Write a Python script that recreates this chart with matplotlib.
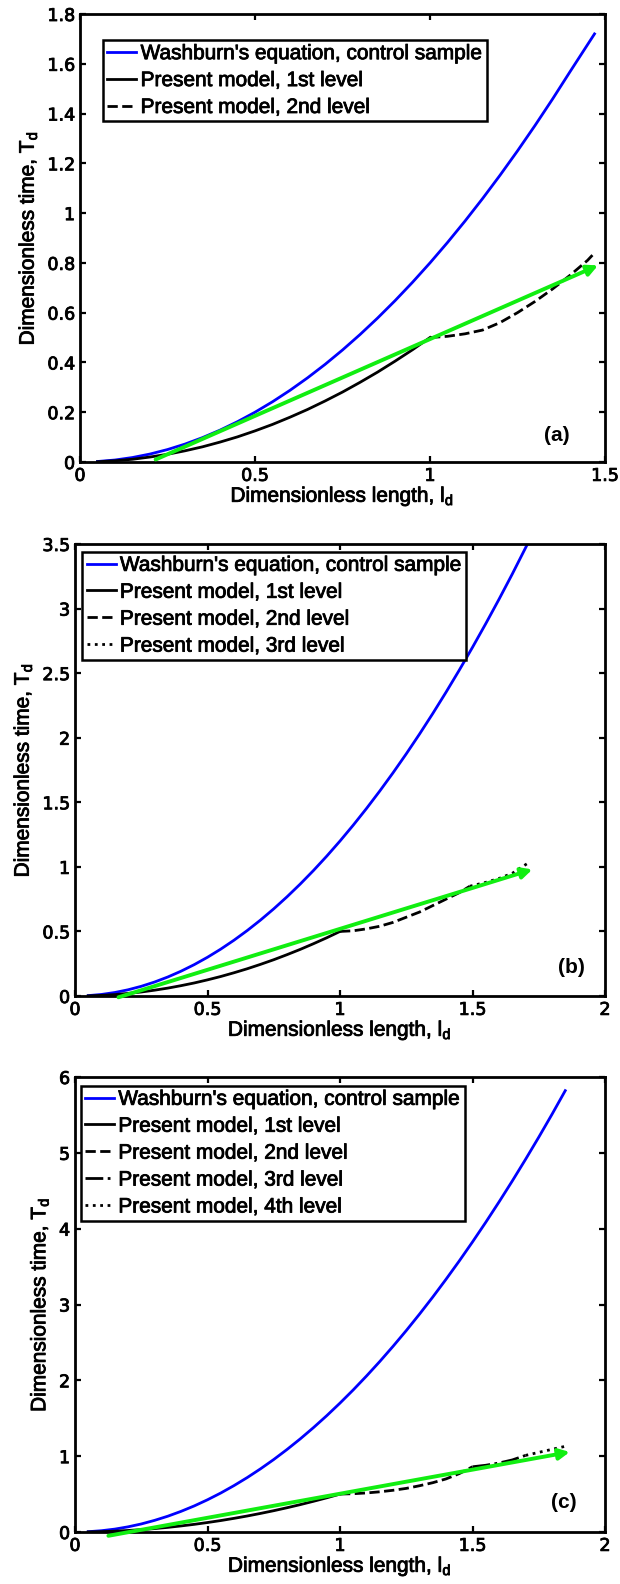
import matplotlib
matplotlib.use('Agg')
from matplotlib import pyplot as plt
import matplotlib.patheffects as pe

plt.rcParams['font.family'] = ['Liberation Sans', 'DejaVu Sans']
plt.rcParams['mathtext.default'] = 'regular'

############ DATA

# panel (a)
a_wash_x = [0.05, 0.1, 0.15, 0.2, 0.25, 0.3, 0.35, 0.4, 0.45, 0.5, 0.55, 0.6, 0.65, 0.7, 0.75, 0.8, 0.85, 0.9, 0.95,
            1.0, 1.05, 1.1, 1.15, 1.2, 1.25, 1.3, 1.35, 1.4, 1.47]
a_wash_y = [0.002, 0.008, 0.018, 0.032, 0.05, 0.072, 0.098, 0.128, 0.162, 0.2, 0.242, 0.288, 0.338, 0.392, 0.45,
            0.512, 0.578, 0.648, 0.722, 0.8, 0.882, 0.968, 1.058, 1.152, 1.25, 1.352, 1.458, 1.568, 1.72]
a_lvl1_x = [0.05, 0.1, 0.15, 0.2, 0.25, 0.3, 0.35, 0.4, 0.45, 0.5, 0.55, 0.6, 0.65, 0.7, 0.75, 0.8, 0.85, 0.9, 0.95, 1.0]
a_lvl1_y = [0.001, 0.005, 0.011, 0.02, 0.031, 0.045, 0.061, 0.08, 0.101, 0.125, 0.151, 0.18, 0.211, 0.245, 0.281,
            0.32, 0.361, 0.405, 0.451, 0.5]
a_lvl2_x = [1.0, 1.05, 1.1, 1.15, 1.2, 1.25, 1.3, 1.35, 1.4, 1.45, 1.47]
a_lvl2_y = [0.5, 0.505, 0.515, 0.53, 0.56, 0.6, 0.645, 0.695, 0.75, 0.81, 0.84]
a_arrow = [(0.216, 0.01), (1.48, 0.79)]

# panel (b)
b_wash_x = [0.05, 0.1, 0.15, 0.2, 0.25, 0.3, 0.35, 0.4, 0.45, 0.5, 0.55, 0.6, 0.65, 0.7, 0.75, 0.8, 0.85, 0.9, 0.95,
            1.0, 1.05, 1.1, 1.15, 1.2, 1.25, 1.3, 1.35, 1.4, 1.45, 1.5, 1.55, 1.6, 1.65, 1.71]
b_wash_y = [0.003, 0.012, 0.027, 0.048, 0.075, 0.108, 0.147, 0.192, 0.243, 0.3, 0.363, 0.432, 0.507, 0.588, 0.675,
            0.768, 0.867, 0.972, 1.083, 1.2, 1.323, 1.452, 1.587, 1.728, 1.875, 2.028, 2.187, 2.352, 2.523, 2.7,
            2.883, 3.072, 3.267, 3.51]
b_lvl1_x = a_lvl1_x
b_lvl1_y = [0.001, 0.005, 0.011, 0.02, 0.031, 0.045, 0.061, 0.08, 0.101, 0.125, 0.151, 0.18, 0.211, 0.245, 0.281,
            0.32, 0.361, 0.405, 0.451, 0.5]
b_lvl2_x = [1.0, 1.05, 1.1, 1.15, 1.2, 1.25, 1.3, 1.35, 1.4, 1.45, 1.49]
b_lvl2_y = [0.5, 0.505, 0.52, 0.54, 0.57, 0.61, 0.65, 0.70, 0.75, 0.80, 0.85]
b_lvl3_x = [1.49, 1.55, 1.6, 1.65, 1.71]
b_lvl3_y = [0.85, 0.88, 0.91, 0.95, 1.03]
b_arrow = [(0.164, -0.01), (1.726, 0.98)]

# panel (c)
c_wash_x = [0.05, 0.1, 0.15, 0.2, 0.25, 0.3, 0.35, 0.4, 0.45, 0.5, 0.55, 0.6, 0.65, 0.7, 0.75, 0.8, 0.85, 0.9, 0.95,
            1.0, 1.05, 1.1, 1.15, 1.2, 1.25, 1.3, 1.35, 1.4, 1.45, 1.5, 1.55, 1.6, 1.65, 1.7, 1.75, 1.8, 1.85]
c_wash_y = [0.004, 0.017, 0.038, 0.068, 0.106, 0.153, 0.208, 0.272, 0.344, 0.425, 0.514, 0.612, 0.718, 0.833, 0.956,
            1.088, 1.228, 1.377, 1.534, 1.7, 1.874, 2.057, 2.248, 2.448, 2.656, 2.873, 3.098, 3.332, 3.574, 3.825,
            4.084, 4.352, 4.628, 4.913, 5.206, 5.508, 5.82]
c_lvl1_x = a_lvl1_x
c_lvl1_y = [0.001, 0.005, 0.011, 0.02, 0.031, 0.045, 0.061, 0.08, 0.101, 0.125, 0.151, 0.18, 0.211, 0.245, 0.281,
            0.32, 0.361, 0.405, 0.451, 0.5]
c_lvl2_x = [1.0, 1.05, 1.1, 1.15, 1.2, 1.25, 1.3, 1.35, 1.4, 1.45, 1.5]
c_lvl2_y = [0.5, 0.505, 0.515, 0.53, 0.55, 0.575, 0.61, 0.65, 0.7, 0.77, 0.86]
c_lvl3_x = [1.5, 1.55, 1.6, 1.65, 1.7]
c_lvl3_y = [0.86, 0.88, 0.91, 0.95, 1.01]
c_lvl4_x = [1.7, 1.75, 1.8, 1.85]
c_lvl4_y = [1.01, 1.05, 1.09, 1.13]
c_arrow = [(0.126, -0.05), (1.867, 1.055)]

# ticks
a_xticks = [0, 0.5, 1, 1.5]
a_xlabels = ['0', '0.5', '1', '1.5']
a_yticks = [0, 0.2, 0.4, 0.6, 0.8, 1.0, 1.2, 1.4, 1.6, 1.8]
a_ylabels = ['0', '0.2', '0.4', '0.6', '0.8', '1', '1.2', '1.4', '1.6', '1.8']
bc_xticks = [0, 0.5, 1, 1.5, 2]
bc_xlabels = ['0', '0.5', '1', '1.5', '2']
b_yticks = [0, 0.5, 1, 1.5, 2, 2.5, 3, 3.5]
b_ylabels = ['0', '0.5', '1', '1.5', '2', '2.5', '3', '3.5']
c_yticks = [0, 1, 2, 3, 4, 5, 6]
c_ylabels = ['0', '1', '2', '3', '4', '5', '6']

lbl_wash = "Washburn's equation, control sample"
lbl_levels = ['Present model, 1st level', 'Present model, 2nd level',
              'Present model, 3rd level', 'Present model, 4th level']

BLUE = '#0000ff'
GREEN = '#11ee11'
LW = 2.0
FS = 15
THICK = [pe.withStroke(linewidth=0.6, foreground='black')]


def style_axes(ax, xt, xl, yt, yl, xmax, ymax):
    ax.set_xlim(0, xmax)
    ax.set_ylim(0, ymax)
    ax.set_xticks(xt)
    ax.set_xticklabels(xl, family='DejaVu Sans', fontsize=12.6)
    ax.set_yticks(yt)
    ax.set_yticklabels(yl, family='DejaVu Sans', fontsize=12.6)
    ax.tick_params(direction='in', top=True, right=True, length=4, width=1.6, pad=3.5)
    for sp in ax.spines.values():
        sp.set_linewidth(2.0)
    xl_ = ax.set_xlabel('Dimensionless length, $l_d$', fontsize=FS, labelpad=0)
    yl_ = ax.set_ylabel('Dimensionless time, $T_d$', fontsize=FS, labelpad=6)
    for t in ax.get_xticklabels() + ax.get_yticklabels() + [xl_, yl_]:
        t.set_path_effects(THICK)


def green_arrow(ax, pts):
    ax.annotate('', xy=pts[1], xytext=pts[0],
                arrowprops=dict(arrowstyle='-|>', color=GREEN, lw=2.8,
                                mutation_scale=16, shrinkA=0, shrinkB=0),
                annotation_clip=False)


def add_legend(ax, anchor):
    leg = ax.legend(loc='upper left', bbox_to_anchor=anchor, fancybox=False,
                    edgecolor='black', framealpha=1, handlelength=1.4,
                    handletextpad=0.2, labelspacing=0.38, borderpad=0.2,
                    borderaxespad=0, fontsize=FS)
    leg.get_frame().set_linewidth(1.8)
    for t in leg.get_texts():
        t.set_path_effects(THICK)


def panel_label(ax, x, y, s):
    ax.text(x, y, s, fontweight='bold', fontsize=FS, ha='center', va='center')


fig = plt.figure(figsize=(6.2, 15.84), dpi=100)

# (a)
ax1 = fig.add_axes([80 / 620, 1 - 462 / 1584, 525 / 620, 448 / 1584])
ax1.plot(a_wash_x, a_wash_y, color=BLUE, lw=LW, label=lbl_wash)
ax1.plot(a_lvl1_x, a_lvl1_y, color='black', lw=LW, ls='-', label=lbl_levels[0])
ax1.plot(a_lvl2_x, a_lvl2_y, color='black', lw=LW, ls='--', label=lbl_levels[1])
green_arrow(ax1, a_arrow)
style_axes(ax1, a_xticks, a_xlabels, a_yticks, a_ylabels, 1.5, 1.8)
add_legend(ax1, (0.044, 0.942))
panel_label(ax1, 1.362, 0.105, '(a)')

# (b)
ax2 = fig.add_axes([75 / 620, 1 - 996 / 1584, 530 / 620, 452 / 1584])
ax2.plot(b_wash_x, b_wash_y, color=BLUE, lw=LW, label=lbl_wash)
ax2.plot(b_lvl1_x, b_lvl1_y, color='black', lw=LW, ls='-', label=lbl_levels[0])
ax2.plot(b_lvl2_x, b_lvl2_y, color='black', lw=LW, ls='--', label=lbl_levels[1])
ax2.plot(b_lvl3_x, b_lvl3_y, color='black', lw=LW, ls=':', label=lbl_levels[2])
green_arrow(ax2, b_arrow)
style_axes(ax2, bc_xticks, bc_xlabels, b_yticks, b_ylabels, 2, 3.5)
add_legend(ax2, (0.014, 0.983))
panel_label(ax2, 1.875, 0.22, '(b)')

# (c)
ax3 = fig.add_axes([75 / 620, 1 - 1532 / 1584, 530 / 620, 455 / 1584])
ax3.plot(c_wash_x, c_wash_y, color=BLUE, lw=LW, label=lbl_wash)
ax3.plot(c_lvl1_x, c_lvl1_y, color='black', lw=LW, ls='-', label=lbl_levels[0])
ax3.plot(c_lvl2_x, c_lvl2_y, color='black', lw=LW, ls='--', label=lbl_levels[1])
ax3.plot(c_lvl3_x, c_lvl3_y, color='black', lw=LW, ls='-.', label=lbl_levels[2])
ax3.plot(c_lvl4_x, c_lvl4_y, color='black', lw=LW, ls=':', label=lbl_levels[3])
green_arrow(ax3, c_arrow)
style_axes(ax3, bc_xticks, bc_xlabels, c_yticks, c_ylabels, 2, 6)
add_legend(ax3, (0.011, 0.981))
panel_label(ax3, 1.845, 0.39, '(c)')

fig.savefig('out.png', dpi=100)
